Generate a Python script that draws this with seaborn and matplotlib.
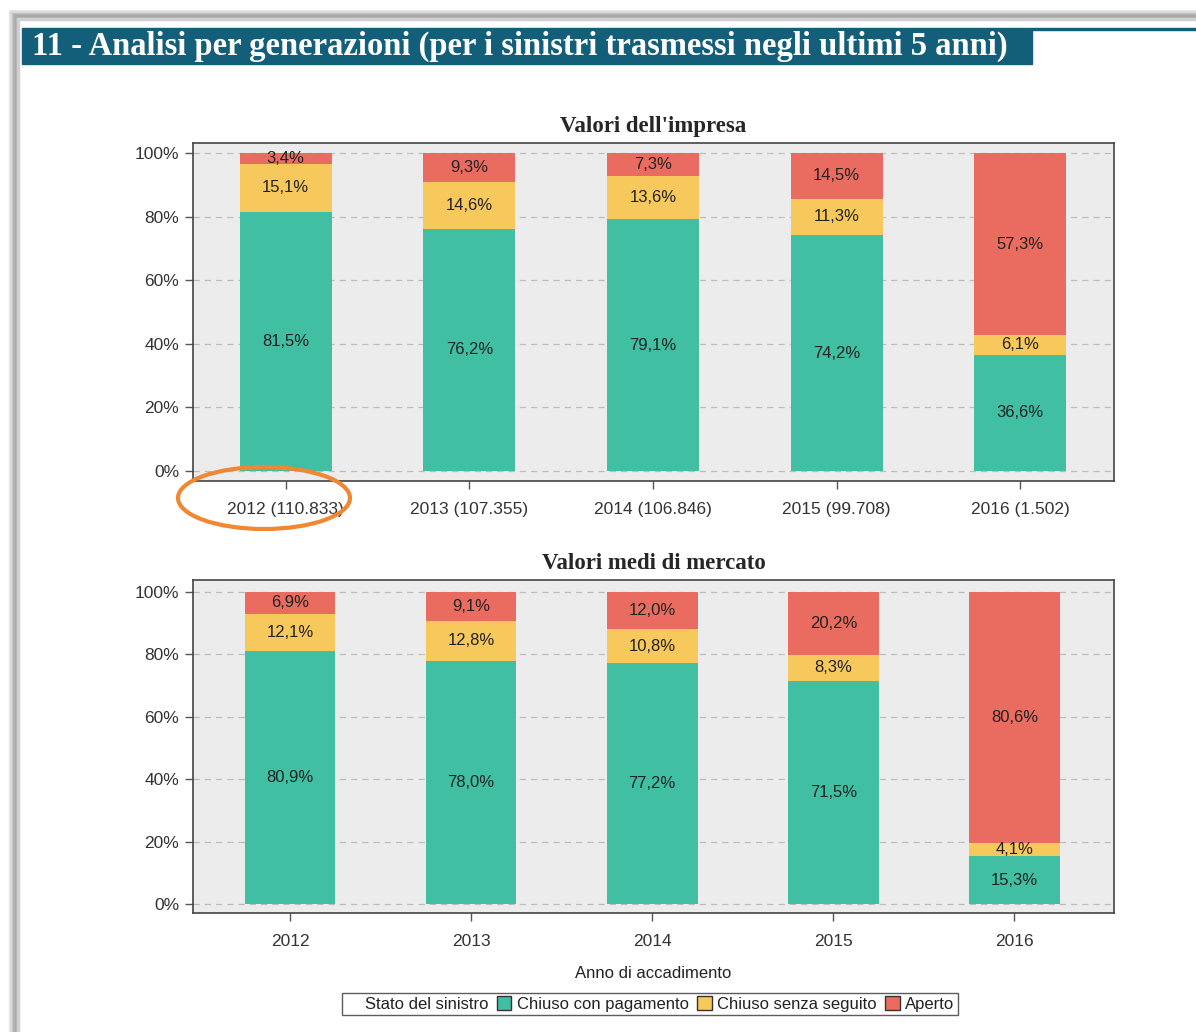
import numpy as np
import pandas as pd
import matplotlib
matplotlib.use("Agg")
import matplotlib.pyplot as plt
from matplotlib.patches import Rectangle, Ellipse
import seaborn as sns

# ---------------- data ----------------
years_top = ["2012 (110.833)", "2013 (107.355)", "2014 (106.846)", "2015 (99.708)", "2016 (1.502)"]
top_pagamento = [81.5, 76.2, 79.1, 74.2, 36.6]
top_senza = [15.1, 14.6, 13.6, 11.3, 6.1]
top_aperto = [3.4, 9.3, 7.3, 14.5, 57.3]

years_bottom = ["2012", "2013", "2014", "2015", "2016"]
mkt_pagamento = [80.9, 78.0, 77.2, 71.5, 15.3]
mkt_senza = [12.1, 12.8, 10.8, 8.3, 4.1]
mkt_aperto = [6.9, 9.1, 12.0, 20.2, 80.6]

series_names = ["Chiuso con pagamento", "Chiuso senza seguito", "Aperto"]
yticks = [0, 20, 40, 60, 80, 100]
ytick_labels = ["0%", "20%", "40%", "60%", "80%", "100%"]

title_text = "11 - Analisi per generazioni (per i sinistri trasmessi negli ultimi 5 anni)"
title_top = "Valori dell'impresa"
title_bottom = "Valori medi di mercato"
xlabel = "Anno di accadimento"
legend_title = "Stato del sinistro"

# ---------------- style ----------------
C_GREEN = "#40bfa2"
C_YELLOW = "#f7c95c"
C_RED = "#ea6b5f"
colors = [C_GREEN, C_YELLOW, C_RED]
PANEL = "#ececec"
SANS = ["Liberation Sans", "DejaVu Sans"]
SERIF = ["Liberation Serif", "DejaVu Serif"]

sns.set_theme(style="white")
plt.rcParams["font.family"] = SANS

W, H = 1196, 1032
fig = plt.figure(figsize=(W / 100, H / 100), dpi=100)
fig.patch.set_facecolor("white")


def fx(px):
    return px / W


def fy(py):
    return 1 - py / H


# page shadow frame
shades = ["#ececec", "#dcdcdc", "#c8c8c8", "#b5b5b5", "#a8a8a8", "#b0b0b0", "#d0d0d0"]
for i, g in enumerate(shades):
    fig.patches.append(Rectangle((fx(9 + i * 1.4), 0), fx(1.5), fy(10 + i * 1.4),
                                 transform=fig.transFigure, color=g, zorder=0))
    fig.patches.append(Rectangle((fx(9 + i * 1.4), fy(11.4 + i * 1.4)), 1, fy(10) - fy(11.5),
                                 transform=fig.transFigure, color=g, zorder=0))

# title banner
BANNER = "#135e78"
fig.patches.append(Rectangle((fx(22), fy(64)), fx(1032 - 22), fy(28) - fy(64),
                             transform=fig.transFigure, color=BANNER, zorder=1))
fig.patches.append(Rectangle((fx(1032), fy(30)), 1, fy(28) - fy(30),
                             transform=fig.transFigure, color=BANNER, zorder=1))
fig.text(fx(32), fy(46), title_text, color="white", fontsize=23.5, fontweight="bold",
         family=SERIF, ha="left", va="center")


def draw_panel(ax, cats, s1, s2, s3, title, ylim, xlim, show_xlabel):
    s1 = np.array(s1)
    s2 = np.array(s2)
    s3 = np.array(s3)
    cum1 = s1
    cum2 = s1 + s2
    cum3 = s1 + s2 + s3
    df = pd.DataFrame({"anno": cats, "c1": cum1, "c2": cum2, "c3": cum3})
    ax.set_facecolor(PANEL)
    for y in yticks:
        ax.axhline(y, color="#bdbdbd", lw=0.9, ls=(0, (5, 4)), zorder=0)
    for col, c in zip(["c3", "c2", "c1"], [C_RED, C_YELLOW, C_GREEN]):
        sns.barplot(data=df, x="anno", y=col, order=cats, color=c, saturation=1,
                    width=0.5, linewidth=0, edgecolor="none", ax=ax, zorder=2)
    for i in range(len(cats)):
        for lo, hi, v in [(0, cum1[i], s1[i]), (cum1[i], cum2[i], s2[i]), (cum2[i], cum3[i], s3[i])]:
            ax.text(i, (lo + hi) / 2, f"{v:.1f}%".replace(".", ","), ha="center", va="center",
                    fontsize=12, color="#222222", zorder=3)
    ax.set_ylim(*ylim)
    ax.set_xlim(*xlim)
    ax.set_yticks(yticks)
    ax.set_yticklabels(ytick_labels)
    ax.set_ylabel("")
    ax.set_xlabel(xlabel if show_xlabel else "", fontsize=12, labelpad=12, color="#222222")
    ax.set_title(title, fontsize=16.5, fontweight="bold", family=SERIF, pad=8)
    ax.tick_params(axis="both", which="both", direction="out", length=6, width=1,
                   color="#555555", labelsize=12.5, labelcolor="#333333", pad=4,
                   bottom=True, left=True)
    ax.tick_params(axis="x", pad=9)
    for sp in ax.spines.values():
        sp.set_visible(True)
        sp.set_color("#444444")
        sp.set_linewidth(1.2)
    ax.grid(False)


ax1 = fig.add_axes([fx(193), fy(481), fx(1114 - 193), fy(143) - fy(481)])
draw_panel(ax1, years_top, top_pagamento, top_senza, top_aperto, title_top,
           (-3.1, 103.1), (-0.505, 4.51), False)

ax2 = fig.add_axes([fx(193), fy(913), fx(1114 - 193), fy(580) - fy(913)])
draw_panel(ax2, years_bottom, mkt_pagamento, mkt_senza, mkt_aperto, title_bottom,
           (-2.9, 103.8), (-0.536, 4.55), True)

# legend
handles = [Rectangle((0, 0), 1, 1, facecolor="none", edgecolor="none")]
labels = [legend_title]
for c, n in zip(colors, series_names):
    handles.append(Rectangle((0, 0), 1, 1, facecolor=c, edgecolor="#333333", lw=1))
    labels.append(n)
leg = fig.legend(handles, labels, loc="center", bbox_to_anchor=(fx(650), fy(1004)),
                 ncol=4, frameon=True, fancybox=False, fontsize=12,
                 handlelength=0.85, handleheight=0.85, handletextpad=0.35, columnspacing=0.5,
                 borderpad=0.2, edgecolor="#333333")
leg.get_frame().set_linewidth(1.0)
leg.legend_handles[0].set_width(0)
for t in leg.get_texts():
    t.set_color("#222222")

# orange annotation ellipse
fig.patches.append(Ellipse((fx(264), fy(498)), fx(172), fy(468) - fy(530),
                           transform=fig.transFigure, facecolor="none",
                           edgecolor="#ef8733", lw=3, zorder=5))

fig.savefig("out.png", dpi=100)
